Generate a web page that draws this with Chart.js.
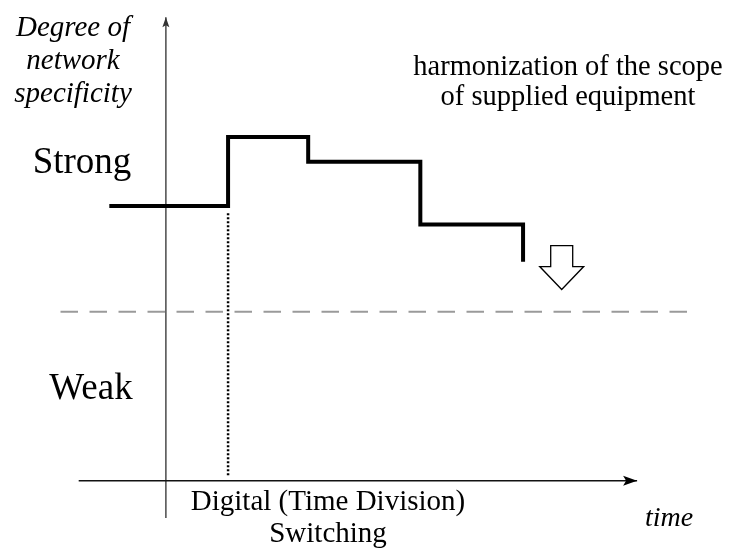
<!DOCTYPE html>
<html>
<head>
<meta charset="utf-8">
<script src="https://cdn.jsdelivr.net/npm/chart.js@4/dist/chart.umd.min.js"></script>
<style>
html,body{margin:0;padding:0;background:#fff;}
#wrap{width:737px;height:554px;position:relative;}
</style>
</head>
<body>
<div id="wrap"><canvas id="c" width="737" height="554"></canvas></div>
<script>
// ---- data (time units along x, degree of network specificity along y) ----
const stepTimes  = [-1.2, 1.32, 3.02, 5.4, 7.58];
const stepLevels = [5.9, 7.38, 6.85, 5.5, 4.7];
const switchTime = 1.32;          // digital switching introduced
const switchLevelTop = 5.78;
const thresholdLevel = 3.63;      // border strong / weak
const thresholdRange = [-2.236, 11.06];
const xAxisRange = [-1.85, 10.0];
const yAxisRange = [-0.8, 9.95];
const arrowAt = {t: 8.4, level: 5.05};
const labelsY = ["Degree of", "network", "specificity"];
const levelLabels = ["Strong", "Weak"];
const noteLines = ["harmonization of the scope", "of supplied equipment"];
const xLabelLines = ["Digital (Time Division)", "Switching"];
const xTitle = "time";

const FONT = "'Liberation Serif', 'Times New Roman', serif";

const stepData = stepTimes.map((t, i) => ({x: t, y: stepLevels[i]}));

const drawPlugin = {
  id: 'deco',
  afterDatasetsDraw(chart) {
    const {ctx, scales: {x, y}} = chart;
    ctx.save();
    // arrowheads for axes
    const xa = x.getPixelForValue(xAxisRange[1]), ya0 = y.getPixelForValue(0);
    ctx.fillStyle = '#000';
    ctx.beginPath();
    ctx.moveTo(xa, ya0);
    ctx.lineTo(xa - 14, ya0 - 5);
    ctx.lineTo(xa - 11, ya0);
    ctx.lineTo(xa - 14, ya0 + 5);
    ctx.closePath();
    ctx.fill();
    const yx0 = x.getPixelForValue(0), yt = y.getPixelForValue(yAxisRange[1]);
    ctx.fillStyle = '#333';
    ctx.beginPath();
    ctx.moveTo(yx0, yt);
    ctx.lineTo(yx0 - 3.5, yt + 10);
    ctx.lineTo(yx0, yt + 8);
    ctx.lineTo(yx0 + 3.5, yt + 10);
    ctx.closePath();
    ctx.fill();

    // hollow down arrow
    const ax = x.getPixelForValue(arrowAt.t), ay = y.getPixelForValue(arrowAt.level);
    ctx.strokeStyle = '#000';
    ctx.lineWidth = 1.3;
    ctx.fillStyle = '#fff';
    ctx.beginPath();
    ctx.moveTo(ax - 11, ay);
    ctx.lineTo(ax + 11, ay);
    ctx.lineTo(ax + 11, ay + 21);
    ctx.lineTo(ax + 22, ay + 21);
    ctx.lineTo(ax, ay + 44);
    ctx.lineTo(ax - 22, ay + 21);
    ctx.lineTo(ax - 11, ay + 21);
    ctx.closePath();
    ctx.fill();
    ctx.stroke();

    // texts
    ctx.fillStyle = '#000';
    ctx.textAlign = 'center';
    ctx.textBaseline = 'middle';
    ctx.font = 'italic 29px ' + FONT;
    labelsY.forEach((s, i) => ctx.fillText(s, 73, 28 + i * 33));
    ctx.font = '37px ' + FONT;
    ctx.fillText(levelLabels[0], 82, 163);
    ctx.fillText(levelLabels[1], 91, 389);
    ctx.font = '28.5px ' + FONT;
    noteLines.forEach((s, i) => ctx.fillText(s, 568, 68 + i * 30));
    ctx.font = '29px ' + FONT;
    xLabelLines.forEach((s, i) => ctx.fillText(s, 328, 502 + i * 32));
    ctx.font = 'italic 28px ' + FONT;
    ctx.fillText(xTitle, 669, 519);
    ctx.restore();
  }
};

new Chart(document.getElementById('c'), {
  type: 'scatter',
  data: {
    datasets: [
      { // dashed threshold
        data: thresholdRange.map(t => ({x: t, y: thresholdLevel})),
        showLine: true, borderColor: '#9a9a9a', borderWidth: 2, borderDash: [17.5, 11.5],
        pointRadius: 0, order: 5
      },
      { // x axis
        data: xAxisRange.map(t => ({x: t, y: 0})),
        showLine: true, borderColor: '#111', borderWidth: 1.5, pointRadius: 0, order: 4
      },
      { // y axis
        data: yAxisRange.map(v => ({x: 0, y: v})),
        showLine: true, borderColor: '#555', borderWidth: 1.6, pointRadius: 0, order: 4
      },
      { // dotted switching line
        data: [{x: switchTime, y: 0.12}, {x: switchTime, y: switchLevelTop}],
        showLine: true, borderColor: '#000', borderWidth: 2.5, borderDash: [2, 2],
        pointRadius: 0, order: 3
      },
      { // step line
        data: stepData,
        showLine: true, stepped: 'before', borderColor: '#000', borderWidth: 4,
        borderCapStyle: 'butt', borderJoinStyle: 'miter',
        pointRadius: 0, order: 1
      }
    ]
  },
  options: {
    responsive: false,
    animation: false,
    layout: {padding: 0},
    plugins: {legend: {display: false}, tooltip: {enabled: false}},
    scales: {
      x: {type: 'linear', display: false, min: -3.52, max: 12.12},
      y: {type: 'linear', display: false, min: -1.57, max: 10.32}
    }
  },
  plugins: [drawPlugin]
});
</script>
</body>
</html>
